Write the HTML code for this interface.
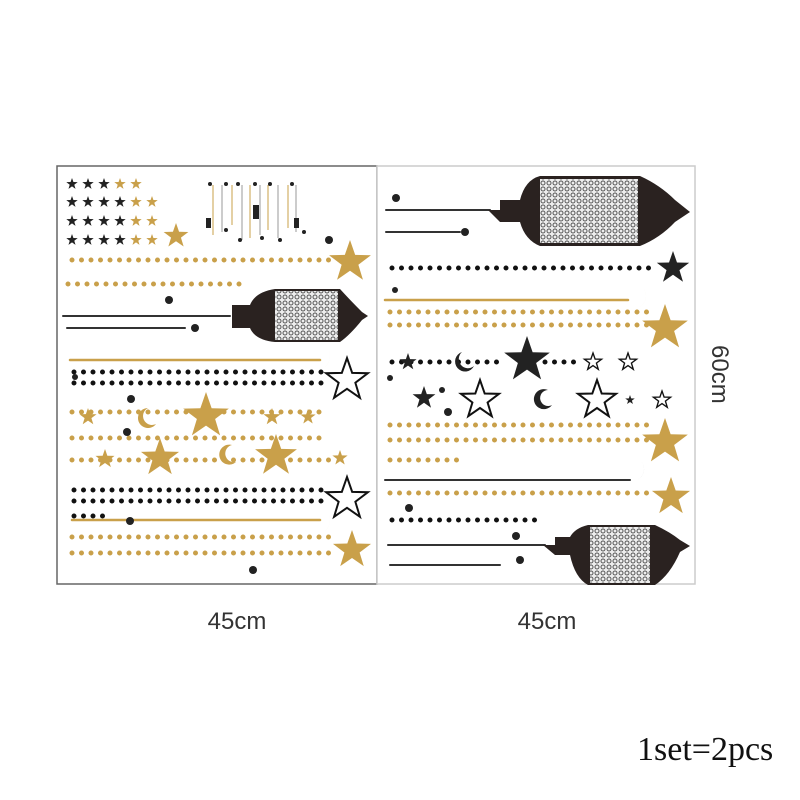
<!DOCTYPE html>
<html><head><meta charset="utf-8"><style>
html,body{margin:0;padding:0;background:#fff;width:800px;height:800px;overflow:hidden}
svg{position:absolute;left:0;top:0}
.t{font-family:"Liberation Sans",sans-serif;font-size:24px;fill:#333}
</style></head><body>
<svg width="800" height="800" viewBox="0 0 800 800">
<defs>
<polygon id="s" points="0,-1 .235,-.324 .951,-.309 .38,.124 .588,.809 0,.4 -.588,.809 -.38,.124 -.951,-.309 -.235,-.324"/>
<pattern id="lat" width="6" height="6" patternUnits="userSpaceOnUse"><rect width="6" height="6" fill="#eee"/><circle cx="3" cy="3" r="2" fill="none" stroke="#555" stroke-width="1"/></pattern>
</defs>
<rect x="57" y="166" width="320" height="418" fill="#fff" stroke="#666" stroke-width="1.5"/>
<rect x="377" y="166" width="318" height="418" fill="#fff" stroke="#ccc" stroke-width="1.5"/>
<g fill="none" stroke-linecap="round">
<g stroke="#c9a04a" stroke-width="5" stroke-dasharray="0 9.5">
<line x1="72" y1="260" x2="330" y2="260"/>
<line x1="68" y1="284" x2="245" y2="284"/>
<line x1="72" y1="412" x2="325" y2="412"/>
<line x1="72" y1="438" x2="325" y2="438"/>
<line x1="72" y1="460" x2="330" y2="460"/>
<line x1="72" y1="537" x2="330" y2="537"/>
<line x1="72" y1="553" x2="330" y2="553"/>
<line x1="390" y1="312" x2="650" y2="312"/>
<line x1="390" y1="325" x2="650" y2="325"/>
<line x1="390" y1="425" x2="650" y2="425"/>
<line x1="390" y1="440" x2="650" y2="440"/>
<line x1="390" y1="460" x2="460" y2="460"/>
<line x1="390" y1="493" x2="655" y2="493"/>
</g>
<g stroke="#111" stroke-width="5" stroke-dasharray="0 9.5">
<line x1="74" y1="372" x2="330" y2="372"/>
<line x1="74" y1="383" x2="330" y2="383"/>
<line x1="74" y1="490" x2="330" y2="490"/>
<line x1="74" y1="501" x2="330" y2="501"/>
<line x1="74" y1="516" x2="110" y2="516"/>
<line x1="392" y1="268" x2="655" y2="268"/>
<line x1="392" y1="362" x2="500" y2="362"/>
<line x1="545" y1="362" x2="580" y2="362"/>
<line x1="392" y1="520" x2="535" y2="520"/>
</g>
<g stroke="#c9a04a" stroke-width="2.5">
<line x1="70" y1="360" x2="320" y2="360"/>
<line x1="72" y1="520" x2="320" y2="520"/>
<line x1="385" y1="300" x2="628" y2="300"/>
</g>
<g stroke="#333" stroke-width="2">
<line x1="63" y1="316" x2="230" y2="316"/>
<line x1="67" y1="328" x2="185" y2="328"/>
<line x1="386" y1="210" x2="490" y2="210"/>
<line x1="386" y1="232" x2="460" y2="232"/>
<line x1="385" y1="480" x2="630" y2="480"/>
<line x1="388" y1="545" x2="545" y2="545"/>
<line x1="390" y1="565" x2="500" y2="565"/>
</g>
</g>
<g fill="#2a2220">
<path d="M223,316 L232,316 L232,305 L250,305 Q255,292 275,289 L340,289 Q350,300 362,312 L368,316 L362,320 Q350,335 340,342 L275,342 Q255,340 250,328 L232,328 L232,316Z"/>
<rect x="275" y="291" width="63" height="49" fill="url(#lat)"/>
<path d="M488,210 L500,210 L500,200 L520,200 Q525,180 540,176 L640,176 Q660,185 675,200 L690,212 L675,222 Q660,238 640,246 L540,246 Q525,240 520,222 L500,222Z"/>
<rect x="540" y="179" width="98" height="64" fill="url(#lat)"/>
<path d="M543,545 L555,545 L555,537 L570,537 Q575,528 588,525 L655,525 Q670,532 680,540 L690,546 L680,552 Q670,575 655,585 L588,585 Q575,578 570,555 L555,555Z"/>
<rect x="590" y="527" width="60" height="56" fill="url(#lat)"/>
</g>
<g fill="#222">
<use href="#s" transform="translate(72,184) scale(6)"/><use href="#s" transform="translate(88,184) scale(6)"/><use href="#s" transform="translate(104,184) scale(6)"/>
<use href="#s" transform="translate(72,202) scale(6)"/><use href="#s" transform="translate(88,202) scale(6)"/><use href="#s" transform="translate(104,202) scale(6)"/><use href="#s" transform="translate(120,202) scale(6)"/>
<use href="#s" transform="translate(72,221) scale(6)"/><use href="#s" transform="translate(88,221) scale(6)"/><use href="#s" transform="translate(104,221) scale(6)"/><use href="#s" transform="translate(120,221) scale(6)"/>
<use href="#s" transform="translate(72,240) scale(6)"/><use href="#s" transform="translate(88,240) scale(6)"/><use href="#s" transform="translate(104,240) scale(6)"/><use href="#s" transform="translate(120,240) scale(6)"/>
<use href="#s" transform="translate(673,268) scale(17)"/>
<use href="#s" transform="translate(408,362) scale(9)"/>
<use href="#s" transform="translate(527,360) scale(24)"/>
<use href="#s" transform="translate(424,398) scale(12)"/>
<use href="#s" transform="translate(630,400) scale(5)"/>
</g>
<g fill="#c9a04a">
<use href="#s" transform="translate(120,184) scale(6)"/><use href="#s" transform="translate(136,184) scale(6)"/>
<use href="#s" transform="translate(136,202) scale(6)"/><use href="#s" transform="translate(152,202) scale(6)"/>
<use href="#s" transform="translate(136,221) scale(6)"/><use href="#s" transform="translate(152,221) scale(6)"/>
<use href="#s" transform="translate(136,240) scale(6)"/><use href="#s" transform="translate(152,240) scale(6)"/>
<use href="#s" transform="translate(176,236) scale(13)"/>
<use href="#s" transform="translate(350,262) scale(22)"/>
<use href="#s" transform="translate(88,417) scale(9)"/>
<use href="#s" transform="translate(206,416) scale(24)"/>
<use href="#s" transform="translate(272,417) scale(9)"/>
<use href="#s" transform="translate(308,417) scale(8)"/>
<use href="#s" transform="translate(105,459) scale(10)"/>
<use href="#s" transform="translate(160,458) scale(20)"/>
<use href="#s" transform="translate(276,456) scale(22)"/>
<use href="#s" transform="translate(340,458) scale(8)"/>
<use href="#s" transform="translate(352,550) scale(20)"/>
<use href="#s" transform="translate(665,328) scale(24)"/>
<use href="#s" transform="translate(665,442) scale(24)"/>
<use href="#s" transform="translate(671,497) scale(20)"/>
</g>
<g fill="#fff" stroke="#111">
<use href="#s" transform="translate(347,380) scale(22)" stroke-width="0.09"/>
<use href="#s" transform="translate(347,499) scale(22)" stroke-width="0.09"/>
<use href="#s" transform="translate(480,400) scale(20)" stroke-width="0.1"/>
<use href="#s" transform="translate(597,400) scale(20)" stroke-width="0.1"/>
<use href="#s" transform="translate(593,362) scale(9)" stroke-width="0.15"/>
<use href="#s" transform="translate(628,362) scale(9)" stroke-width="0.15"/>
<use href="#s" transform="translate(662,400) scale(9)" stroke-width="0.15"/>
</g>
<g fill="#c9a04a">
<path d="M326,346 A13,13 0 1 1 305,366 A10,10 0 1 0 326,346Z"/>
<path d="M326,510 A13,13 0 1 1 305,530 A10,10 0 1 0 326,510Z"/>
<path d="M148,408 A10,10 0 1 0 156,424 A8,8 0 1 1 148,408Z"/>
<path d="M232,445 A10,10 0 1 0 236,462 A8,8 0 1 1 232,445Z"/>
<path d="M643,288 A11,11 0 1 1 625,304 A9,9 0 1 0 643,288Z"/>
</g>
<g fill="#222">
<path d="M462,352 A10,10 0 1 0 474,366 A8,8 0 1 1 462,352Z"/>
<path d="M548,390 A10,10 0 1 0 552,405 A8,8 0 1 1 548,390Z"/>
<path d="M640,460 A11,11 0 1 1 624,478 A9,9 0 1 0 640,460Z"/>
</g>
<g fill="#222">
<circle cx="169" cy="300" r="4"/><circle cx="195" cy="328" r="4"/><circle cx="131" cy="399" r="4"/><circle cx="127" cy="432" r="4"/><circle cx="130" cy="521" r="4"/><circle cx="253" cy="570" r="4"/><circle cx="75" cy="377" r="3"/><circle cx="329" cy="240" r="4"/>
<circle cx="396" cy="198" r="4"/><circle cx="465" cy="232" r="4"/><circle cx="395" cy="290" r="3"/><circle cx="442" cy="390" r="3"/><circle cx="448" cy="412" r="4"/><circle cx="409" cy="508" r="4"/><circle cx="516" cy="536" r="4"/><circle cx="520" cy="560" r="4"/><circle cx="390" cy="378" r="3"/>
</g>
<g stroke-width="1">
<g stroke="#c9a04a"><line x1="213" y1="185" x2="213" y2="235"/><line x1="232" y1="185" x2="232" y2="225"/><line x1="250" y1="185" x2="250" y2="238"/><line x1="268" y1="185" x2="268" y2="230"/><line x1="288" y1="185" x2="288" y2="228"/></g>
<g stroke="#999"><line x1="222" y1="185" x2="222" y2="232"/><line x1="242" y1="185" x2="242" y2="240"/><line x1="260" y1="185" x2="260" y2="235"/><line x1="278" y1="185" x2="278" y2="238"/><line x1="296" y1="185" x2="296" y2="232"/></g>
<g fill="#222"><circle cx="210" cy="184" r="2"/><circle cx="226" cy="184" r="2"/><circle cx="238" cy="184" r="2"/><circle cx="255" cy="184" r="2"/><circle cx="270" cy="184" r="2"/><circle cx="292" cy="184" r="2"/>
<rect x="253" y="205" width="6" height="14"/><rect x="206" y="218" width="5" height="10"/><rect x="294" y="218" width="5" height="10"/>
<circle cx="226" cy="230" r="2"/><circle cx="240" cy="240" r="2"/><circle cx="262" cy="238" r="2"/><circle cx="280" cy="240" r="2"/><circle cx="304" cy="232" r="2"/></g>
</g>
<text class="t" x="237" y="629" text-anchor="middle">45cm</text>
<text class="t" x="547" y="629" text-anchor="middle">45cm</text>
<text class="t" transform="translate(712,345) rotate(90)">60cm</text>
<text x="637" y="760" style="font-family:'Liberation Serif',serif;font-size:34px;fill:#111">1set=2pcs</text>
</svg>
</body></html>
